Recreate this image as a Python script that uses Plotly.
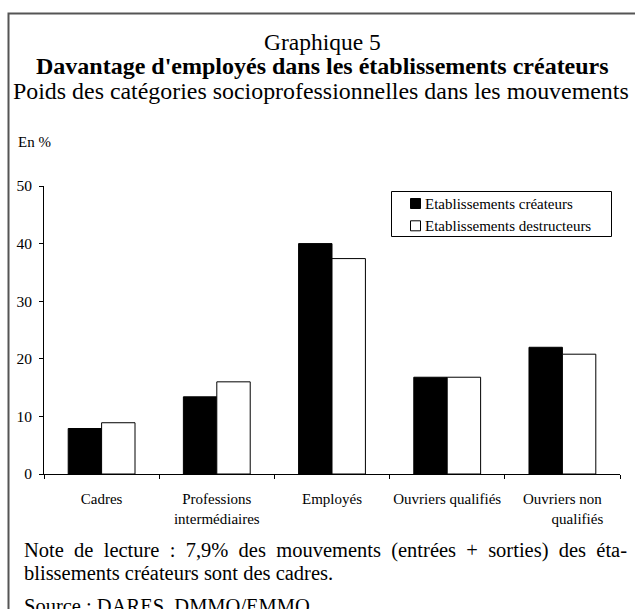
import plotly.graph_objects as go

# data (en %)
categories = ["Cadres", "Professions<br>intermédiaires", "Employés",
              "Ouvriers qualifiés",
              "Ouvriers non<br>\u00a0\u00a0\u00a0\u00a0\u00a0\u00a0\u00a0\u00a0qualifiés"]
createurs = [7.9, 13.4, 40.0, 16.8, 22.0]
destructeurs = [8.9, 16.0, 37.4, 16.8, 20.8]
series_names = ["Etablissements créateurs", "Etablissements destructeurs"]
y_ticks = [0, 10, 20, 30, 40, 50]

FONT = "Liberation Serif, Times New Roman, serif"
W, H = 635, 609
L, R, T, B = 44, 15, 186, 135

# pixel -> paper helpers for the decorations around the plot
def px(x):
    return (x - L) / (W - L - R)

def py(y):
    return (H - B - y) / (H - T - B)

fig = go.Figure()
fig.add_trace(go.Bar(x=categories, y=createurs, name=series_names[0],
                     marker=dict(color="black", line=dict(color="black", width=1))))
fig.add_trace(go.Bar(x=categories, y=destructeurs, name=series_names[1],
                     marker=dict(color="white", line=dict(color="black", width=1))))

fig.update_layout(
    width=W, height=H,
    margin=dict(l=L, r=R, t=T, b=B),
    paper_bgcolor="white", plot_bgcolor="white",
    barmode="group", bargap=0.42, bargroupgap=0,
    showlegend=False,
    font=dict(family=FONT, color="black", size=15),
)
fig.update_xaxes(showline=True, linecolor="black", linewidth=1,
                 ticks="outside", ticklen=4, tickcolor="black",
                 tickson="boundaries", showgrid=False, tickangle=0,
                 tickfont=dict(size=15), ticklabelstandoff=11)
fig.update_yaxes(range=[0, 50], tickvals=y_ticks, showline=True,
                 linecolor="black", linewidth=1, ticks="outside", ticklen=4,
                 tickcolor="black", showgrid=False, zeroline=False,
                 tickfont=dict(size=15.5), ticklabelstandoff=4)

# outer frame
fig.add_shape(type="rect", xref="paper", yref="paper",
              x0=px(8.5), x1=px(660), y0=py(640), y1=py(13.5),
              line=dict(color="#555555", width=2), fillcolor="rgba(0,0,0,0)",
              layer="below")

# titles
titles = [("Graphique 5", 41.5, False, 23.5, 322),
          ("Davantage d'employés dans les établissements créateurs", 66, True, 24, 322),
          ("Poids des catégories socioprofessionnelles dans les mouvements", 91, False, 23.9, 320.5)]
for text, yc, bold, size, xc in titles:
    fig.add_annotation(text=f"<b>{text}</b>" if bold else text,
                       xref="paper", yref="paper", x=px(xc), y=py(yc),
                       xanchor="center", yanchor="middle", showarrow=False,
                       font=dict(size=size))

fig.add_annotation(text="En %", xref="paper", yref="paper", x=px(16), y=py(142),
                   xanchor="left", yanchor="middle", showarrow=False,
                   font=dict(size=15))

# legend drawn by hand (box, squares, labels)
fig.add_shape(type="rect", xref="paper", yref="paper",
              x0=px(391.5), x1=px(611.5), y0=py(236.5), y1=py(191.5),
              line=dict(color="black", width=1), fillcolor="white")
for i, (name, col) in enumerate(zip(series_names, ["black", "white"])):
    yc = 203.5 + 22.3 * i
    fig.add_shape(type="rect", xref="paper", yref="paper",
                  x0=px(410.5), x1=px(420.5), y0=py(yc + 5), y1=py(yc - 5),
                  line=dict(color="black", width=1), fillcolor=col)
    fig.add_annotation(text=name, xref="paper", yref="paper",
                       x=px(423), y=py(yc), xanchor="left", yanchor="middle",
                       showarrow=False, font=dict(size=15))

# reading note and source (the source line is cut by the bottom edge, as in the original)
nb = "\u00a0\u00a0"
note1 = nb.join("Note de lecture : 7,9% des mouvements (entrées + sorties) des éta-".split(" "))
notes = [(note1, 550), ("blissements créateurs sont des cadres.", 572.5),
         ("Source : DARES, DMMO/EMMO.", 606)]
for text, yc in notes:
    fig.add_annotation(text=text, xref="paper", yref="paper", x=px(22), y=py(yc),
                       xanchor="left", yanchor="middle", showarrow=False,
                       font=dict(size=20.5))

# drop the browser's default body margin so the figure sits at the page corner
fig.write_html("out.html", config={"displayModeBar": False},
               post_script="document.body.style.margin='0';")
